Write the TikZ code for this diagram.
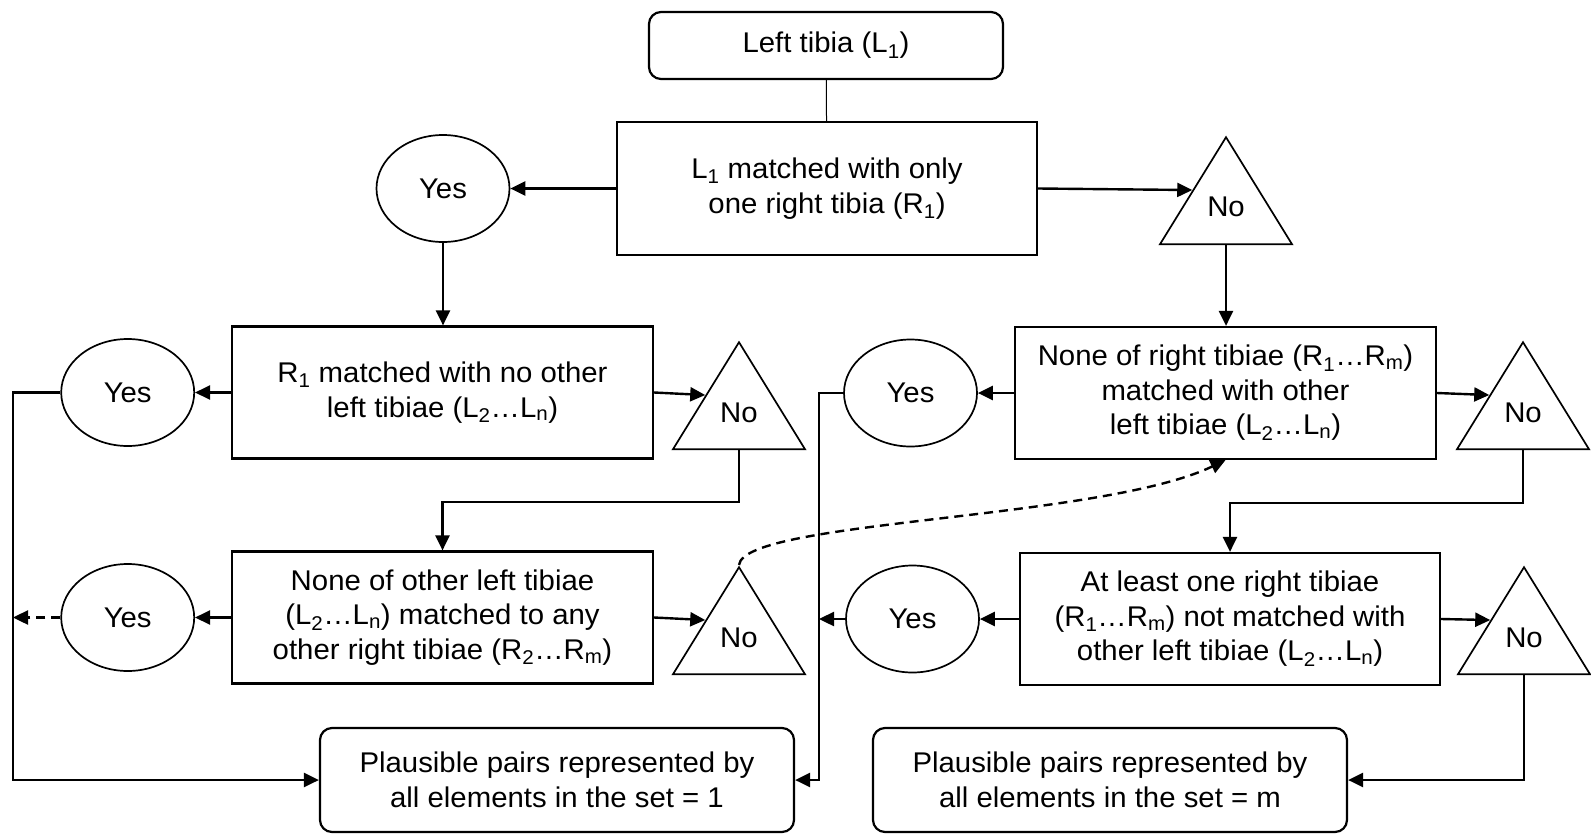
\documentclass[tikz,border=0pt]{standalone}
\usepackage{fontspec}
\setmainfont{Liberation Sans}[FakeStretch=1.03]
\usetikzlibrary{arrows.meta,shapes.geometric,calc}
\newcommand\sbs[1]{\textsubscript{#1}}
\begin{document}
\begin{tikzpicture}[x=1pt,y=-1pt,
  every node/.style={font=\fontsize{28.5}{34.5}\selectfont, align=center, inner sep=0pt},
  box/.style={draw, line width=2.2pt, rectangle},
  rbox/.style={box, rounded corners=12pt},
  yes/.style={draw, ellipse, line width=1.7pt, minimum width=133pt, minimum height=107pt},
  no/.style={draw, isosceles triangle, shape border rotate=90, isosceles triangle stretches, minimum width=132pt, minimum height=107pt, line width=1.7pt},
  conn/.style={line width=2.4pt, -{Triangle[length=15pt,width=14pt]}},
  dconn/.style={conn, dash pattern=on 9pt off 6pt},
  ]
\useasboundingbox (0,0) rectangle (1591,833);
\coordinate (lx) at (13,0);
\coordinate (mx) at (819,0);

\node[rbox, minimum width=354pt, minimum height=67pt] (T) at (826,45.5) {Left tibia (L\sbs{1})};
\node[box, minimum width=420pt, minimum height=133pt] (A) at (827,188.5) {L\sbs{1} matched with only\\one right tibia (R\sbs{1})};
\node[yes] (y1) at (443,188.5) {Yes};
\node[no, anchor=apex] (n1) at (1226,135) {};
\node (n1t) at ($(n1.apex)!0.65!(n1.lower side)$) {No};

\node[box, minimum width=421pt, minimum height=132pt] (B) at (442.5,392.5) {R\sbs{1} matched with no other\\left tibiae (L\sbs{2}…L\sbs{n})};
\node[yes] (y2) at (127.7,392.5) {Yes};
\node[no, anchor=apex] (n2) at (739,340) {};
\node (n2t) at ($(n2.apex)!0.66!(n2.lower side)$) {No};

\node[box, minimum width=421pt, minimum height=132pt] (C) at (1225.5,393) {None of right tibiae (R\sbs{1}…R\sbs{m})\\matched with other\\left tibiae (L\sbs{2}…L\sbs{n})};
\node[yes] (y4) at (910.5,393) {Yes};
\node[no, anchor=apex] (n4) at (1523,340) {};
\node (n4t) at ($(n4.apex)!0.66!(n4.lower side)$) {No};

\node[box, minimum width=421pt, minimum height=132pt] (D) at (442.5,617.5) {None of other left tibiae\\(L\sbs{2}…L\sbs{n}) matched to any\\other right tibiae (R\sbs{2}…R\sbs{m})};
\node[yes] (y3) at (127.7,617.5) {Yes};
\node[no, anchor=apex] (n3) at (739,565) {};
\node (n3t) at ($(n3.apex)!0.66!(n3.lower side)$) {No};

\node[box, minimum width=420pt, minimum height=132pt] (E) at (1230,619) {At least one right tibiae\\(R\sbs{1}…R\sbs{m}) not matched with\\other left tibiae (L\sbs{2}…L\sbs{n})};
\node[yes] (y5) at (912.5,619) {Yes};
\node[no, anchor=apex] (n5) at (1524,565) {};
\node (n5t) at ($(n5.apex)!0.66!(n5.lower side)$) {No};

\node[rbox, minimum width=474pt, minimum height=104pt] (F) at (557,780) {Plausible pairs represented by\\all elements in the set = 1};
\node[rbox, minimum width=474pt, minimum height=104pt] (G) at (1110,780) {Plausible pairs represented by\\all elements in the set = m};

\draw[line width=1pt] (T) -- (A);
\draw[conn] (A) -- (y1);
\draw[conn] (A.east) -- (n1.left side);
\draw[conn] (y1.south) -- (y1.south |- B.north);
\draw[conn] (n1.lower side) -- (n1.lower side |- C.north);

\draw[conn] (B) -- (y2);
\draw[conn] (y2.west) -- (y2.west -| lx) |- (F.west);
\draw[conn] (B.east) -- (n2.left side);
\draw[conn] (n2.lower side) -- ++(0,52) -| (D.north);

\draw[conn] (D) -- (y3);
\draw[dconn] (y3.west) -- (y3.west -| lx);
\draw[conn] (D.east) -- (n3.left side);
\draw[dconn] (n3.apex) .. controls +(5,-45) and +(-125,60) .. (C.south);

\draw[conn] (C) -- (y4);
\draw[conn] (y4.west) -- (y4.west -| mx) |- (F.east);
\draw[conn] (C.east) -- (n4.left side);
\draw[conn] (n4.lower side) -- ++(0,53) -| (E.north);

\draw[conn] (E) -- (y5);
\draw[conn] (y5.west) -- (y5.west -| mx);
\draw[conn] (E.east) -- (n5.left side);
\draw[conn] (n5.lower side) |- (G.east);
\end{tikzpicture}
\end{document}
